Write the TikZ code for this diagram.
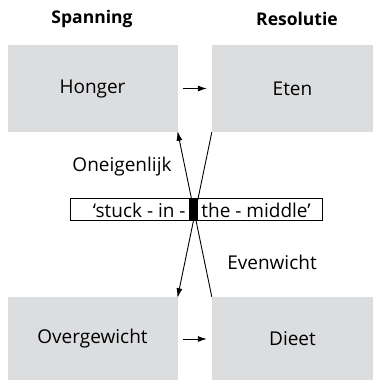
\documentclass[tikz,border=0pt]{standalone}
\usepackage{fontspec}
\setmainfont{Open Sans}
\usetikzlibrary{arrows.meta}
\definecolor{boxgray}{RGB}{220,221,223}
\begin{document}
\begin{tikzpicture}[x=1pt,y=-1pt,
  stage/.style={fill=boxgray, minimum width=170pt, minimum height=87pt, inner sep=0pt, font=\fontsize{19}{22}\selectfont},
  head/.style={font=\bfseries\fontsize{17.5}{21}\selectfont},
  lbl/.style={font=\fontsize{19}{22}\selectfont, inner sep=0pt},
  flow/.style={line width=0.9pt, -{Latex[length=9pt,width=6pt]}},
  cross/.style={line width=0.9pt, -{Latex[length=9.5pt,width=6pt]}, shorten >=-1pt}]
  \useasboundingbox (0,0) rectangle (373,380);
  % column headings
  \node[head] (spanning) at (92,19) {Spanning};
  \node[head] (resolutie) at (297,19) {Resolutie};
  % the four stages
  \node[stage] (honger) at (92.5,88.5) {Honger};
  \node[stage, minimum width=161pt] (eten) at (292.5,88.5) {Eten};
  \node[stage, minimum height=84pt] (overgewicht) at (92.5,339) {Overgewicht};
  \node[stage, minimum width=161pt, minimum height=84pt] (dieet) at (292.5,339) {Dieet};
  % direct transitions
  \draw[flow] ([xshift=5pt]honger.east) -- ([xshift=-5pt]eten.west);
  \draw[flow] ([xshift=5pt]overgewicht.east) -- ([xshift=-5pt]dieet.west);
  % middle bar
  \node[draw, line width=0.8pt, minimum width=252pt, minimum height=22pt, inner sep=0pt] (bar) at (196,209) {};
  % crossing paths
  \draw[cross] (dieet.north west) -- (honger.south east);
  \draw[cross] (eten.south west) -- (overgewicht.north east);
  \node[fill=black, minimum width=9pt, minimum height=22pt, inner sep=0pt] (blk) at (193.5,209) {};
  \node[lbl, anchor=east] (left) at ([xshift=-3pt,yshift=-1pt]blk.west) {‘stuck - in -};
  \node[lbl, anchor=west] (right) at ([xshift=3pt,yshift=-1pt]blk.east) {the - middle’};
  % path labels
  \node[lbl] (oneig) at (122,167) {Oneigenlijk};
  \node[lbl] (evenw) at (272,262) {Evenwicht};
\end{tikzpicture}
\end{document}
